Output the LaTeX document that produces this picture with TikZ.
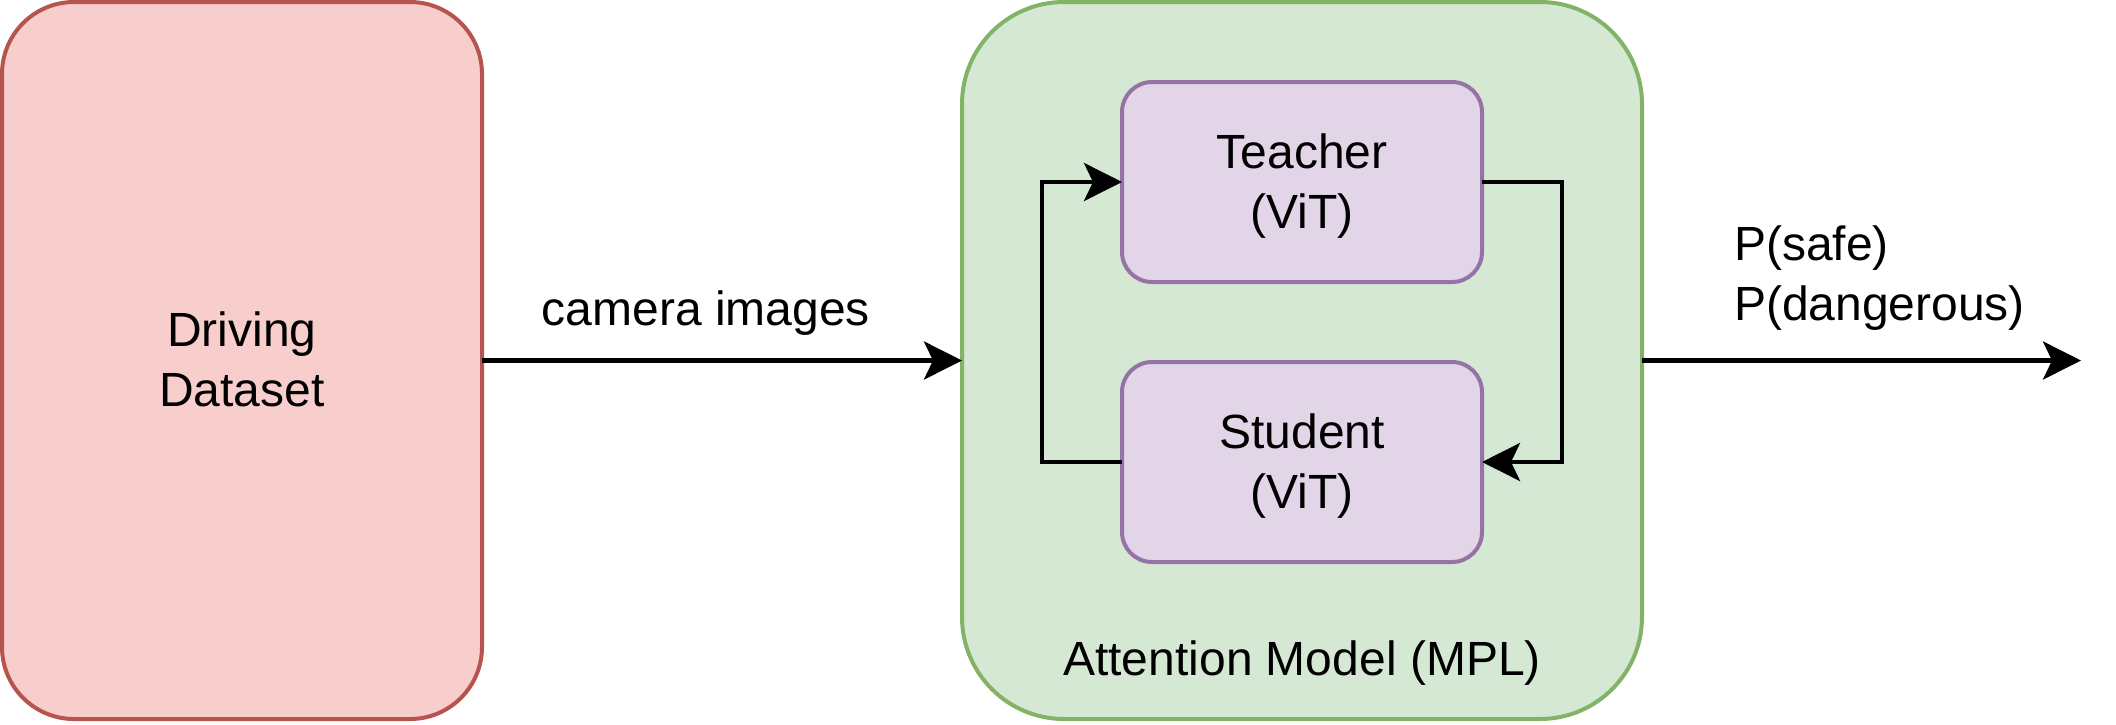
\documentclass[tikz,border=0pt]{standalone}
\usepackage{fontspec}
\setmainfont{Liberation Sans}
\usetikzlibrary{arrows.meta}
\definecolor{dsfill}{HTML}{F8CECC}
\definecolor{dsline}{HTML}{B85450}
\definecolor{gfill}{HTML}{D5E8D4}
\definecolor{gline}{HTML}{82B366}
\definecolor{pfill}{HTML}{E1D5E7}
\definecolor{pline}{HTML}{9673A6}
\newcommand\lstrut{\vrule height 46pt depth 14pt width 0pt}
\begin{document}
\begin{tikzpicture}[x=1pt,y=-1pt,
  txt/.style={font=\fontsize{48pt}{60pt}\selectfont, inner sep=0pt, outer sep=0pt},
  boxbase/.style={txt, rectangle, line width=4pt, align=center},
  dsbox/.style={boxbase, draw=dsline, fill=dsfill, rounded corners=72pt,
    minimum width=480pt, minimum height=717pt},
  modelbox/.style={boxbase, draw=gline, fill=gfill, rounded corners=102pt,
    minimum width=680pt, minimum height=717pt},
  vitbox/.style={boxbase, draw=pline, fill=pfill, rounded corners=30pt,
    minimum width=360pt, minimum height=200pt},
  arr/.style={line width=4.5pt, -{Stealth[length=38pt, width=38pt, inset=9pt]}}
]
\useasboundingbox (0,0) rectangle (2116,724);
\node[dsbox] (ds) at (242,360.5) {\lstrut Driving\\\lstrut Dataset};
\node[modelbox] (am) at (1302,360.5) {};
\node[txt, anchor=base] (amlbl) at (1302,675) {Attention Model (MPL)};
\node[vitbox] (te) at (1302,182) {\lstrut Teacher\\\lstrut (ViT)};
\node[vitbox] (st) at (1302,462) {\lstrut Student\\\lstrut (ViT)};
\coordinate (out) at (2081,360.5);
% connectors
\draw[arr] (ds.east) -- (am.west);
\node[txt, anchor=base] (cam) at (706,325) {camera images};
\draw[arr] (st.west) -- ++(-80,0) |- (te.west);
\draw[arr] (te.east) -- ++(80,0) |- (st.east);
\draw[arr] (am.east) -- (out);
\node[txt, align=left, anchor=north west] (plbl) at (1734,214) {\lstrut P(safe)\\\lstrut P(dangerous)};
\end{tikzpicture}
\end{document}
